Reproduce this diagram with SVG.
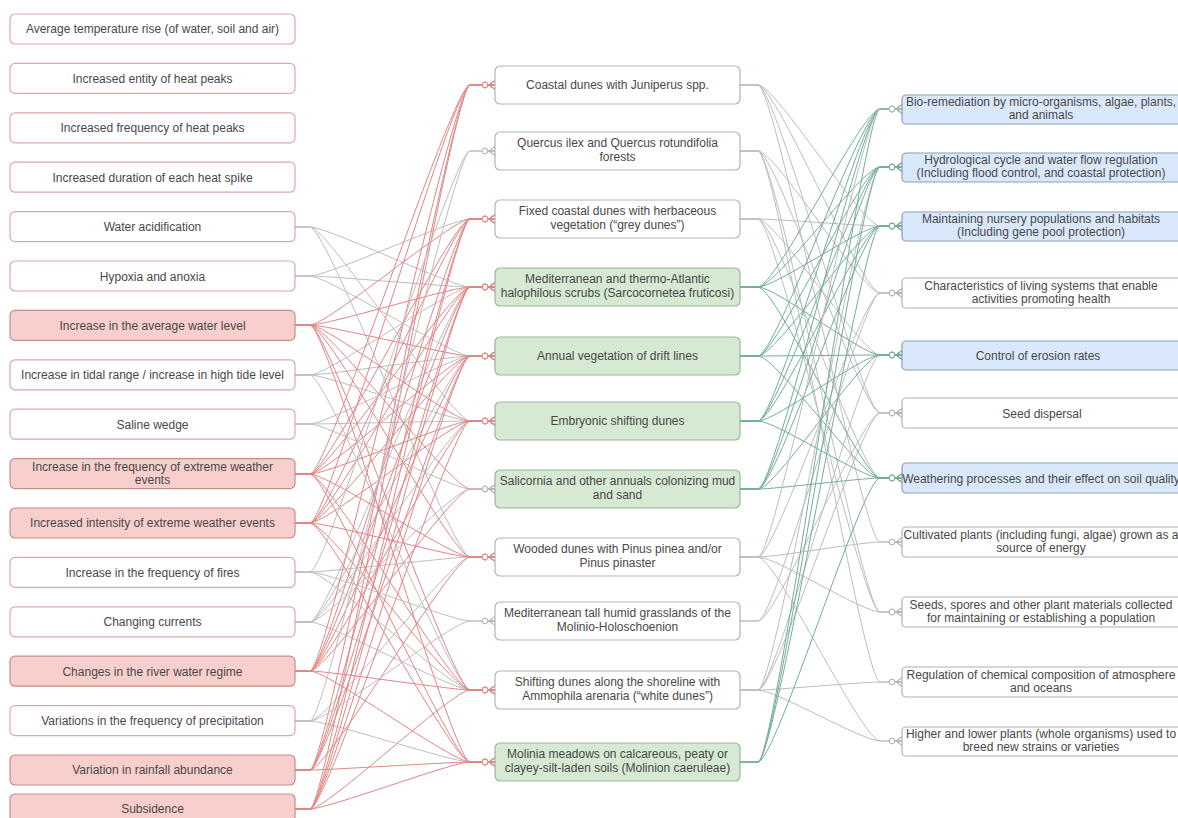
<svg xmlns="http://www.w3.org/2000/svg" width="1178" height="818" viewBox="0 0 1178 818">
<style>
text{font-family:"Liberation Sans",Arial,sans-serif;fill:#484848;text-anchor:middle}
.lt,.mt,.rt{font-size:12px}
.lw{fill:#fff;stroke:#dba8a6;stroke-width:1.2}
.lp{fill:#f8cfcd;stroke:#c98b88;stroke-width:1.2}
.mw{fill:#fff;stroke:#aab9b0;stroke-width:1.2}
.mg{fill:#d6e9d3;stroke:#9bb79a;stroke-width:1.2}
.rw{fill:#fff;stroke:#aab1ba;stroke-width:1.2}
.rb{fill:#dae8fc;stroke:#8d9db2;stroke-width:1.2}
#edges path{fill:none;stroke-width:1}
.eg{stroke:#bdbdbd;marker-end:url(#mG)}
.er{stroke:#e38483;marker-end:url(#mR)}
.et{stroke:#72ad9b;marker-end:url(#mT)}
</style>
<defs>
<marker id="mR" markerUnits="userSpaceOnUse" viewBox="-15 -6 16 12" markerWidth="16" markerHeight="12" refX="0" refY="0" orient="auto"><path d="M-7,0H0M-6,0L0,-4.5M-6,0L0,4.5" fill="none" stroke="#e38483"/><circle cx="-10" cy="0" r="2.8" fill="#fff" stroke="#e38483"/></marker>
<marker id="mG" markerUnits="userSpaceOnUse" viewBox="-15 -6 16 12" markerWidth="16" markerHeight="12" refX="0" refY="0" orient="auto"><path d="M-7,0H0M-6,0L0,-4.5M-6,0L0,4.5" fill="none" stroke="#b5b5b5"/><circle cx="-10" cy="0" r="2.8" fill="#fff" stroke="#b5b5b5"/></marker>
<marker id="mT" markerUnits="userSpaceOnUse" viewBox="-15 -6 16 12" markerWidth="16" markerHeight="12" refX="0" refY="0" orient="auto"><path d="M-7,0H0M-6,0L0,-4.5M-6,0L0,4.5" fill="none" stroke="#72ad9b"/><circle cx="-10" cy="0" r="2.8" fill="#fff" stroke="#72ad9b"/></marker>
</defs>
<rect width="1178" height="818" fill="#fff"/>
<g id="edges">
<path class="eg" d="M295 227H310C328 227 452 287 470 287H495"/>
<path class="eg" d="M295 227H310C328 227 452 421 470 421H495"/>
<path class="eg" d="M295 227H310C328 227 452 557 470 557H495"/>
<path class="eg" d="M295 276H310C328 276 452 219 470 219H495"/>
<path class="eg" d="M295 276H310C328 276 452 287 470 287H495"/>
<path class="eg" d="M295 276H310C328 276 452 356 470 356H495"/>
<path class="eg" d="M295 375H310C328 375 452 287 470 287H495"/>
<path class="eg" d="M295 375H310C328 375 452 356 470 356H495"/>
<path class="eg" d="M295 375H310C328 375 452 421 470 421H495"/>
<path class="eg" d="M295 375H310C328 375 452 690 470 690H495"/>
<path class="eg" d="M295 424H310C328 424 452 356 470 356H495"/>
<path class="eg" d="M295 424H310C328 424 452 421 470 421H495"/>
<path class="eg" d="M295 572H310C328 572 452 557 470 557H495"/>
<path class="eg" d="M295 572H310C328 572 452 690 470 690H495"/>
<path class="eg" d="M295 622H310C328 622 452 287 470 287H495"/>
<path class="eg" d="M295 622H310C328 622 452 356 470 356H495"/>
<path class="eg" d="M295 622H310C328 622 452 421 470 421H495"/>
<path class="eg" d="M295 622H310C328 622 452 690 470 690H495"/>
<path class="eg" d="M295 721H310C328 721 452 557 470 557H495"/>
<path class="eg" d="M295 721H310C328 721 452 762 470 762H495"/>
<path class="er" d="M295 325H310C328 325 452 219 470 219H495"/>
<path class="er" d="M295 325H310C328 325 452 287 470 287H495"/>
<path class="er" d="M295 325H310C328 325 452 356 470 356H495"/>
<path class="er" d="M295 325H310C328 325 452 421 470 421H495"/>
<path class="er" d="M295 325H310C328 325 452 489 470 489H495"/>
<path class="er" d="M295 325H310C328 325 452 557 470 557H495"/>
<path class="er" d="M295 325H310C328 325 452 690 470 690H495"/>
<path class="er" d="M295 325H310C328 325 452 762 470 762H495"/>
<path class="er" d="M295 474H310C328 474 452 85 470 85H495"/>
<path class="er" d="M295 474H310C328 474 452 219 470 219H495"/>
<path class="er" d="M295 474H310C328 474 452 287 470 287H495"/>
<path class="er" d="M295 474H310C328 474 452 356 470 356H495"/>
<path class="er" d="M295 474H310C328 474 452 421 470 421H495"/>
<path class="er" d="M295 474H310C328 474 452 557 470 557H495"/>
<path class="er" d="M295 474H310C328 474 452 690 470 690H495"/>
<path class="er" d="M295 474H310C328 474 452 762 470 762H495"/>
<path class="er" d="M295 523H310C328 523 452 85 470 85H495"/>
<path class="er" d="M295 523H310C328 523 452 219 470 219H495"/>
<path class="er" d="M295 523H310C328 523 452 287 470 287H495"/>
<path class="er" d="M295 523H310C328 523 452 356 470 356H495"/>
<path class="er" d="M295 523H310C328 523 452 421 470 421H495"/>
<path class="er" d="M295 523H310C328 523 452 557 470 557H495"/>
<path class="er" d="M295 523H310C328 523 452 690 470 690H495"/>
<path class="er" d="M295 523H310C328 523 452 762 470 762H495"/>
<path class="er" d="M295 671H310C328 671 452 85 470 85H495"/>
<path class="er" d="M295 671H310C328 671 452 219 470 219H495"/>
<path class="er" d="M295 671H310C328 671 452 287 470 287H495"/>
<path class="er" d="M295 671H310C328 671 452 356 470 356H495"/>
<path class="er" d="M295 671H310C328 671 452 421 470 421H495"/>
<path class="er" d="M295 671H310C328 671 452 489 470 489H495"/>
<path class="er" d="M295 671H310C328 671 452 690 470 690H495"/>
<path class="er" d="M295 671H310C328 671 452 762 470 762H495"/>
<path class="er" d="M295 770H310C328 770 452 85 470 85H495"/>
<path class="er" d="M295 770H310C328 770 452 219 470 219H495"/>
<path class="er" d="M295 770H310C328 770 452 287 470 287H495"/>
<path class="er" d="M295 770H310C328 770 452 356 470 356H495"/>
<path class="er" d="M295 770H310C328 770 452 557 470 557H495"/>
<path class="er" d="M295 770H310C328 770 452 762 470 762H495"/>
<path class="er" d="M295 809H310C328 809 452 85 470 85H495"/>
<path class="er" d="M295 809H310C328 809 452 219 470 219H495"/>
<path class="er" d="M295 809H310C328 809 452 287 470 287H495"/>
<path class="er" d="M295 809H310C328 809 452 356 470 356H495"/>
<path class="er" d="M295 809H310C328 809 452 421 470 421H495"/>
<path class="er" d="M295 809H310C328 809 452 690 470 690H495"/>
<path class="er" d="M295 809H310C328 809 452 762 470 762H495"/>
<path class="eg" d="M295 572H310C328 572 452 151 470 151H495"/>
<path class="eg" d="M295 572H310C328 572 452 621 470 621H495"/>
<path class="eg" d="M295 721H310C328 721 452 151 470 151H495"/>
<path class="eg" d="M295 721H310C328 721 452 621 470 621H495"/>
<path class="eg" d="M295 424H310C328 424 452 489 470 489H495"/>
<path class="eg" d="M295 622H310C328 622 452 489 470 489H495"/>
<path class="eg" d="M740 85H758C776 85 862 226 880 226H902"/>
<path class="eg" d="M740 85H758C776 85 862 293 880 293H902"/>
<path class="eg" d="M740 85H758C776 85 862 413 880 413H902"/>
<path class="eg" d="M740 85H758C776 85 862 542 880 542H902"/>
<path class="eg" d="M740 151H758C776 151 862 293 880 293H902"/>
<path class="eg" d="M740 151H758C776 151 862 413 880 413H902"/>
<path class="eg" d="M740 151H758C776 151 862 612 880 612H902"/>
<path class="eg" d="M740 151H758C776 151 862 682 880 682H902"/>
<path class="eg" d="M740 219H758C776 219 862 226 880 226H902"/>
<path class="eg" d="M740 219H758C776 219 862 355 880 355H902"/>
<path class="eg" d="M740 219H758C776 219 862 478 880 478H902"/>
<path class="eg" d="M740 219H758C776 219 862 612 880 612H902"/>
<path class="eg" d="M740 557H758C776 557 862 293 880 293H902"/>
<path class="eg" d="M740 557H758C776 557 862 542 880 542H902"/>
<path class="eg" d="M740 557H758C776 557 862 612 880 612H902"/>
<path class="eg" d="M740 557H758C776 557 862 741 880 741H902"/>
<path class="eg" d="M740 621H758C776 621 862 293 880 293H902"/>
<path class="eg" d="M740 621H758C776 621 862 413 880 413H902"/>
<path class="eg" d="M740 690H758C776 690 862 167 880 167H902"/>
<path class="eg" d="M740 690H758C776 690 862 355 880 355H902"/>
<path class="eg" d="M740 690H758C776 690 862 413 880 413H902"/>
<path class="eg" d="M740 690H758C776 690 862 682 880 682H902"/>
<path class="eg" d="M740 690H758C776 690 862 741 880 741H902"/>
<path class="et" d="M740 287H758C776 287 862 109 880 109H902"/>
<path class="et" d="M740 287H758C776 287 862 167 880 167H902"/>
<path class="et" d="M740 287H758C776 287 862 226 880 226H902"/>
<path class="et" d="M740 287H758C776 287 862 355 880 355H902"/>
<path class="et" d="M740 287H758C776 287 862 478 880 478H902"/>
<path class="et" d="M740 356H758C776 356 862 109 880 109H902"/>
<path class="et" d="M740 356H758C776 356 862 167 880 167H902"/>
<path class="et" d="M740 356H758C776 356 862 226 880 226H902"/>
<path class="et" d="M740 356H758C776 356 862 355 880 355H902"/>
<path class="et" d="M740 356H758C776 356 862 478 880 478H902"/>
<path class="et" d="M740 421H758C776 421 862 109 880 109H902"/>
<path class="et" d="M740 421H758C776 421 862 167 880 167H902"/>
<path class="et" d="M740 421H758C776 421 862 226 880 226H902"/>
<path class="et" d="M740 421H758C776 421 862 355 880 355H902"/>
<path class="et" d="M740 421H758C776 421 862 478 880 478H902"/>
<path class="et" d="M740 489H758C776 489 862 109 880 109H902"/>
<path class="et" d="M740 489H758C776 489 862 167 880 167H902"/>
<path class="et" d="M740 489H758C776 489 862 226 880 226H902"/>
<path class="et" d="M740 489H758C776 489 862 355 880 355H902"/>
<path class="et" d="M740 489H758C776 489 862 478 880 478H902"/>
<path class="et" d="M740 762H758C776 762 862 109 880 109H902"/>
<path class="et" d="M740 762H758C776 762 862 167 880 167H902"/>
<path class="et" d="M740 762H758C776 762 862 226 880 226H902"/>
<path class="et" d="M740 762H758C776 762 862 478 880 478H902"/>
<path class="eg" d="M740 557H758C776 557 862 109 880 109H902"/>
</g>
<g id="L0"><rect class="lw" x="10" y="14" width="285" height="30" rx="5"/><text class="lt" x="152.5" y="33">Average temperature rise (of water, soil and air)</text></g>
<g id="L1"><rect class="lw" x="10" y="63.4" width="285" height="30" rx="5"/><text class="lt" x="152.5" y="82.5">Increased entity of heat peaks</text></g>
<g id="L2"><rect class="lw" x="10" y="112.8" width="285" height="30" rx="5"/><text class="lt" x="152.5" y="132">Increased frequency of heat peaks</text></g>
<g id="L3"><rect class="lw" x="10" y="162.2" width="285" height="30" rx="5"/><text class="lt" x="152.5" y="181.5">Increased duration of each heat spike</text></g>
<g id="L4"><rect class="lw" x="10" y="211.6" width="285" height="30" rx="5"/><text class="lt" x="152.5" y="231">Water acidification</text></g>
<g id="L5"><rect class="lw" x="10" y="261" width="285" height="30" rx="5"/><text class="lt" x="152.5" y="280.5">Hypoxia and anoxia</text></g>
<g id="L6"><rect class="lp" x="10" y="310.4" width="285" height="30" rx="5"/><text class="lt" x="152.5" y="329.5">Increase in the average water level</text></g>
<g id="L7"><rect class="lw" x="10" y="359.8" width="285" height="30" rx="5"/><text class="lt" x="152.5" y="379">Increase in tidal range / increase in high tide level</text></g>
<g id="L8"><rect class="lw" x="10" y="409.2" width="285" height="30" rx="5"/><text class="lt" x="152.5" y="428.5">Saline wedge</text></g>
<g id="L9"><rect class="lp" x="10" y="458.6" width="285" height="30" rx="5"/><text class="lt" x="152.5" y="471">Increase in the frequency of extreme weather</text><text class="lt" x="152.5" y="484">events</text></g>
<g id="L10"><rect class="lp" x="10" y="508" width="285" height="30" rx="5"/><text class="lt" x="152.5" y="527">Increased intensity of extreme weather events</text></g>
<g id="L11"><rect class="lw" x="10" y="557.4" width="285" height="30" rx="5"/><text class="lt" x="152.5" y="576.5">Increase in the frequency of fires</text></g>
<g id="L12"><rect class="lw" x="10" y="606.8" width="285" height="30" rx="5"/><text class="lt" x="152.5" y="626">Changing currents</text></g>
<g id="L13"><rect class="lp" x="10" y="656.2" width="285" height="30" rx="5"/><text class="lt" x="152.5" y="675.5">Changes in the river water regime</text></g>
<g id="L14"><rect class="lw" x="10" y="705.6" width="285" height="30" rx="5"/><text class="lt" x="152.5" y="725">Variations in the frequency of precipitation</text></g>
<g id="L15"><rect class="lp" x="10" y="755" width="285" height="30" rx="5"/><text class="lt" x="152.5" y="774">Variation in rainfall abundance</text></g>
<g id="L16"><rect class="lp" x="10" y="794" width="285" height="30" rx="5"/><text class="lt" x="152.5" y="813">Subsidence</text></g>
<g id="M0"><rect class="mw" x="495" y="66" width="245" height="38" rx="5"/><text class="mt" x="617.5" y="89">Coastal dunes with Juniperus spp.</text></g>
<g id="M1"><rect class="mw" x="495" y="132" width="245" height="38" rx="5"/><text class="mt" x="617.5" y="147">Quercus ilex and Quercus rotundifolia</text><text class="mt" x="617.5" y="161">forests</text></g>
<g id="M2"><rect class="mw" x="495" y="200" width="245" height="38" rx="5"/><text class="mt" x="617.5" y="215">Fixed coastal dunes with herbaceous</text><text class="mt" x="617.5" y="229">vegetation (“grey dunes”)</text></g>
<g id="M3"><rect class="mg" x="495" y="268" width="245" height="38" rx="5"/><text class="mt" x="617.5" y="283">Mediterranean and thermo-Atlantic</text><text class="mt" x="617.5" y="297">halophilous scrubs (Sarcocornetea fruticosi)</text></g>
<g id="M4"><rect class="mg" x="495" y="337" width="245" height="38" rx="5"/><text class="mt" x="617.5" y="360">Annual vegetation of drift lines</text></g>
<g id="M5"><rect class="mg" x="495" y="402" width="245" height="38" rx="5"/><text class="mt" x="617.5" y="425">Embryonic shifting dunes</text></g>
<g id="M6"><rect class="mg" x="495" y="470" width="245" height="38" rx="5"/><text class="mt" x="617.5" y="485">Salicornia and other annuals colonizing mud</text><text class="mt" x="617.5" y="499">and sand</text></g>
<g id="M7"><rect class="mw" x="495" y="538" width="245" height="38" rx="5"/><text class="mt" x="617.5" y="553">Wooded dunes with Pinus pinea and/or</text><text class="mt" x="617.5" y="567">Pinus pinaster</text></g>
<g id="M8"><rect class="mw" x="495" y="602" width="245" height="38" rx="5"/><text class="mt" x="617.5" y="617">Mediterranean tall humid grasslands of the</text><text class="mt" x="617.5" y="631">Molinio-Holoschoenion</text></g>
<g id="M9"><rect class="mw" x="495" y="671" width="245" height="38" rx="5"/><text class="mt" x="617.5" y="686">Shifting dunes along the shoreline with</text><text class="mt" x="617.5" y="700">Ammophila arenaria (“white dunes”)</text></g>
<g id="M10"><rect class="mg" x="495" y="743" width="245" height="38" rx="5"/><text class="mt" x="617.5" y="758">Molinia meadows on calcareous, peaty or</text><text class="mt" x="617.5" y="772">clayey-silt-laden soils (Molinion caeruleae)</text></g>
<g id="R0"><rect class="rb" x="902" y="95" width="280" height="29" rx="4"/><text class="rt" x="1041" y="106">Bio-remediation by micro-organisms, algae, plants,</text><text class="rt" x="1041" y="119">and animals</text></g>
<g id="R1"><rect class="rb" x="902" y="153" width="280" height="29" rx="4"/><text class="rt" x="1041" y="164">Hydrological cycle and water flow regulation</text><text class="rt" x="1041" y="177">(Including flood control, and coastal protection)</text></g>
<g id="R2"><rect class="rb" x="902" y="212" width="280" height="29" rx="4"/><text class="rt" x="1041" y="223">Maintaining nursery populations and habitats</text><text class="rt" x="1041" y="236">(Including gene pool protection)</text></g>
<g id="R3"><rect class="rw" x="902" y="278" width="280" height="30" rx="4"/><text class="rt" x="1041" y="290">Characteristics of living systems that enable</text><text class="rt" x="1041" y="303">activities promoting health</text></g>
<g id="R4"><rect class="rb" x="902" y="341" width="280" height="29" rx="4"/><text class="rt" x="1038" y="359.5">Control of erosion rates</text></g>
<g id="R5"><rect class="rw" x="902" y="398" width="280" height="30" rx="4"/><text class="rt" x="1042" y="417.5">Seed dispersal</text></g>
<g id="R6"><rect class="rb" x="902" y="463" width="280" height="30" rx="4"/><text class="rt" x="1041" y="482.5">Weathering processes and their effect on soil quality</text></g>
<g id="R7"><rect class="rw" x="902" y="527" width="280" height="30" rx="4"/><text class="rt" x="1041" y="539">Cultivated plants (including fungi, algae) grown as a</text><text class="rt" x="1041" y="552">source of  energy</text></g>
<g id="R8"><rect class="rw" x="902" y="597" width="280" height="30" rx="4"/><text class="rt" x="1041" y="609">Seeds, spores and other plant materials collected</text><text class="rt" x="1041" y="622">for maintaining or establishing a population</text></g>
<g id="R9"><rect class="rw" x="902" y="667" width="280" height="30" rx="4"/><text class="rt" x="1041" y="679">Regulation of chemical composition of atmosphere</text><text class="rt" x="1041" y="692">and oceans</text></g>
<g id="R10"><rect class="rw" x="902" y="727" width="280" height="29" rx="4"/><text class="rt" x="1041" y="738">Higher and lower plants (whole organisms) used to</text><text class="rt" x="1041" y="751">breed new strains or varieties</text></g>
</svg>
